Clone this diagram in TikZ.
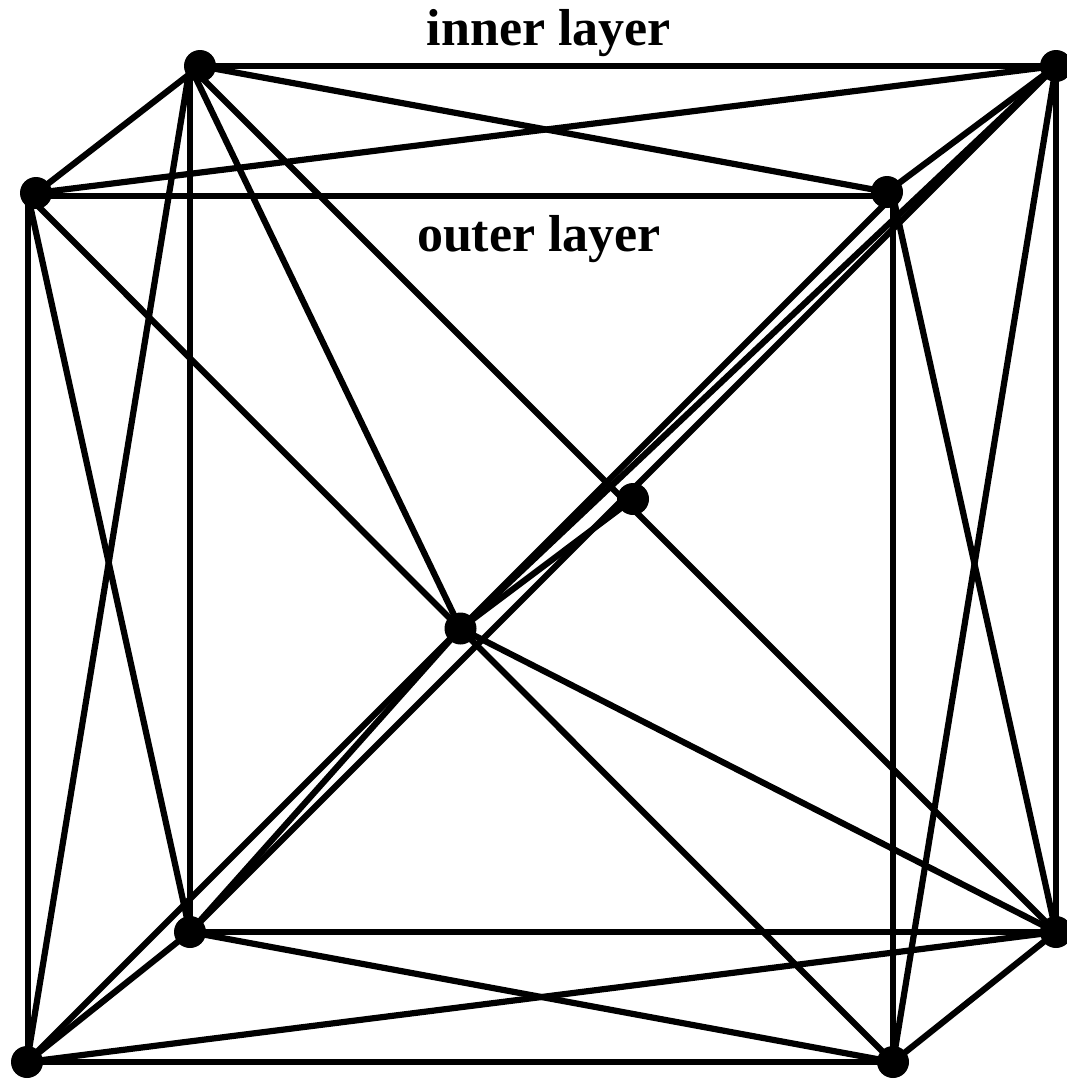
\documentclass[tikz,border=0pt]{standalone}
\usepackage{fontspec}
\setmainfont{Liberation Serif}
\tikzset{
  vertexdot/.style={circle,fill=black,draw=none,minimum size=32pt,inner sep=0pt,outer sep=0pt},
  edgeline/.style={draw=black,line width=6.2pt},
  layerlabel/.style={font=\fontsize{52}{60}\selectfont\bfseries,inner sep=0pt,text=black}
}
\begin{document}
\begin{tikzpicture}[x=1pt,y=-1pt]
\useasboundingbox (0,0) rectangle (1066,1079);
% vertices
\node[vertexdot] (A) at (200,66) {};
\node[vertexdot] (B) at (1056,66) {};
\node[vertexdot] (C) at (36,193) {};
\node[vertexdot] (D) at (887,192) {};
\node[vertexdot] (E) at (633,499) {};
\node[vertexdot] (F) at (460.5,628.5) {};
\node[vertexdot] (G) at (190,932) {};
\node[vertexdot] (H) at (1056,932) {};
\node[vertexdot] (I) at (27,1062) {};
\node[vertexdot] (J) at (893,1062) {};
% line ends that sit off the dot centres
\coordinate (Ac) at (190,66);
\coordinate (Cc) at (28,196);
\coordinate (Dc) at (893,196);
\coordinate (Ic) at (28,1062);
% inner layer
\draw[edgeline] (A.center) -- (B.center);
\draw[edgeline] (Ac) -- (G.center);
\draw[edgeline] (B.center) -- (H.center);
\draw[edgeline] (G.center) -- (H.center);
% outer layer
\draw[edgeline] (Cc) -- (Dc);
\draw[edgeline] (Cc) -- (Ic);
\draw[edgeline] (Dc) -- (J.center);
\draw[edgeline] (Ic) -- (J.center);
% between layers
\draw[edgeline] (A.center) -- (C.center);
\draw[edgeline] (D.center) -- (B.center);
\draw[edgeline] (G.center) -- (I.center);
\draw[edgeline] (J.center) -- (H.center);
% face diagonals
\draw[edgeline] (C.center) -- (B.center);
\draw[edgeline] (A.center) -- (D.center);
\draw[edgeline] (I.center) -- (H.center);
\draw[edgeline] (G.center) -- (J.center);
\draw[edgeline] (Ac) -- (I.center);
\draw[edgeline] (Cc) -- (G.center);
\draw[edgeline] (B.center) -- (J.center);
\draw[edgeline] (Dc) -- (H.center);
% space diagonals
\draw[edgeline] (Ac) -- (H.center);
\draw[edgeline] (B.center) -- (G.center);
\draw[edgeline] (Cc) -- (J.center);
\draw[edgeline] (Dc) -- (I.center);
% centre spokes
\draw[edgeline] (Ac) -- (F.center);
\draw[edgeline] (F.center) -- (H.center);
\draw[edgeline] (F.center) -- (B.center);
\draw[edgeline] (F.center) -- (G.center);
\draw[edgeline] (F.center) -- (E.center);
% labels
\node[layerlabel] (innerlabel) at (549,33) {inner layer};
\node[layerlabel] (outerlabel) at (539,239) {outer layer};
\end{tikzpicture}
\end{document}
